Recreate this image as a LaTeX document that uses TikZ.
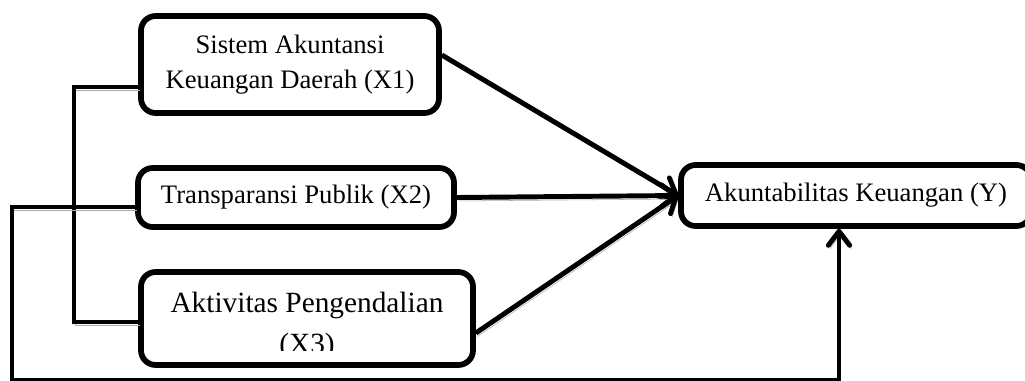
\documentclass[tikz,border=0pt]{standalone}
\usepackage{fontspec}
\setmainfont{Liberation Serif}
\usetikzlibrary{arrows.meta}
\tikzset{
  varbox/.style={draw=black, line width=4.3pt, rounded corners=11pt, fill=white,
    align=center, inner sep=0pt, font=\fontsize{20}{26}\selectfont},
  link/.style={line width=3.7pt,
    preaction={draw=black!33, transform canvas={shift={(1.2pt,-2.6pt)}}}},
  arr/.style={link, -{Straight Barb[length=10.5pt,width=16pt,round]}}
}
\begin{document}
\begin{tikzpicture}[x=0.75pt,y=-0.75pt]
  \useasboundingbox (0,0) rectangle (1025,380);
  \clip (0,0) rectangle (1025,380);
  % variables
  \node[varbox, minimum width=223.5pt, minimum height=72.75pt] (X1) at (290,64.5) {Sistem Akuntansi\\Keuangan Daerah (X1)};
  \node[varbox, minimum width=237pt, minimum height=44.25pt] (X2) at (296,197.5) {Transparansi Publik (X2)};
  \node[varbox, minimum width=249pt, minimum height=69.75pt] (X3) at (307,318.5) {};
  \node[varbox, minimum width=262.5pt, minimum height=45.75pt] (Y) at (856,195.5) {Akuntabilitas Keuangan (Y)};
  \begin{scope}
    \clip (139,272) rectangle (475,350);
    \node[align=center, inner sep=0pt, font=\fontsize{22}{31}\selectfont] (X3text) at (307,326) {Aktivitas Pengendalian\\(X3)};
  \end{scope}
  % corner points of the lines
  \coordinate (b1) at (74,87);
  \coordinate (b3) at (74,322);
  \coordinate (l1) at (12,207);
  \coordinate (l2) at (12,380.5);
  \coordinate (l3) at (839,380.5);
  % connectors
  \draw[link] (X1.west |- b1) -- (b1) -- (b3) -- (X3.west |- b3);
  \draw[arr] (X2.west |- l1) -- (l1) -- (l2) -- (l3) -- (l3 |- Y.south);
  \draw[arr] ([shift={(0,-9.5)}]X1.east) -- (Y.west);
  \draw[arr] (X2.east) -- (Y.west);
  \draw[arr] ([shift={(0,14.5)}]X3.east) -- (Y.west);
\end{tikzpicture}
\end{document}
